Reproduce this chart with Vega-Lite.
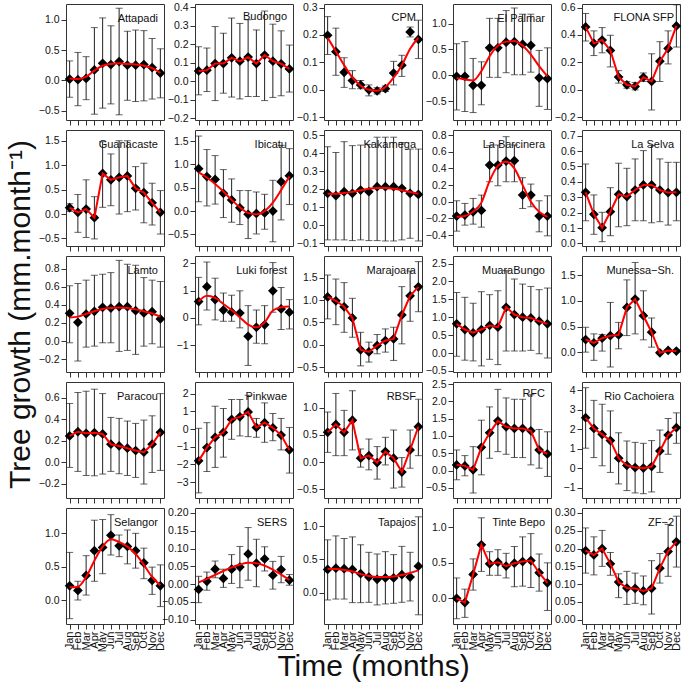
{
"$schema": "https://vega.github.io/schema/vega-lite/v6.json",
"padding": {"left": 4, "top": 1, "right": 0, "bottom": 0},
"background": "white",
"datasets": {"d": [
{"site":"Attapadi","month":"Jan","mean":0.02,"lo":-0.28,"hi":0.32,"fit":0.03},
{"site":"Attapadi","month":"Feb","mean":0.01,"lo":-0.42,"hi":0.46,"fit":0.02},
{"site":"Attapadi","month":"Mar","mean":0.03,"lo":-0.32,"hi":0.39,"fit":0.06},
{"site":"Attapadi","month":"Apr","mean":0.17,"lo":-0.56,"hi":0.87,"fit":0.16},
{"site":"Attapadi","month":"May","mean":0.28,"lo":-0.46,"hi":1.03,"fit":0.24},
{"site":"Attapadi","month":"Jun","mean":0.26,"lo":-0.39,"hi":0.90,"fit":0.27},
{"site":"Attapadi","month":"Jul","mean":0.31,"lo":-0.57,"hi":1.19,"fit":0.28},
{"site":"Attapadi","month":"Aug","mean":0.25,"lo":-0.33,"hi":0.81,"fit":0.27},
{"site":"Attapadi","month":"Sep","mean":0.25,"lo":-0.35,"hi":0.83,"fit":0.26},
{"site":"Attapadi","month":"Oct","mean":0.26,"lo":-0.34,"hi":0.82,"fit":0.24},
{"site":"Attapadi","month":"Nov","mean":0.21,"lo":-0.31,"hi":0.69,"fit":0.20},
{"site":"Attapadi","month":"Dec","mean":0.12,"lo":-0.29,"hi":0.52,"fit":0.12},
{"site":"Budongo","month":"Jan","mean":0.056,"lo":-0.073,"hi":0.187,"fit":0.056},
{"site":"Budongo","month":"Feb","mean":0.06,"lo":-0.055,"hi":0.18,"fit":0.06},
{"site":"Budongo","month":"Mar","mean":0.096,"lo":-0.104,"hi":0.296,"fit":0.096},
{"site":"Budongo","month":"Apr","mean":0.096,"lo":-0.064,"hi":0.26,"fit":0.096},
{"site":"Budongo","month":"May","mean":0.127,"lo":-0.085,"hi":0.342,"fit":0.127},
{"site":"Budongo","month":"Jun","mean":0.109,"lo":-0.095,"hi":0.313,"fit":0.109},
{"site":"Budongo","month":"Jul","mean":0.131,"lo":-0.082,"hi":0.333,"fit":0.131},
{"site":"Budongo","month":"Aug","mean":0.096,"lo":-0.082,"hi":0.278,"fit":0.096},
{"site":"Budongo","month":"Sep","mean":0.142,"lo":-0.104,"hi":0.38,"fit":0.142},
{"site":"Budongo","month":"Oct","mean":0.109,"lo":-0.087,"hi":0.309,"fit":0.109},
{"site":"Budongo","month":"Nov","mean":0.095,"lo":-0.078,"hi":0.273,"fit":0.095},
{"site":"Budongo","month":"Dec","mean":0.067,"lo":-0.058,"hi":0.196,"fit":0.067},
{"site":"CPM","month":"Jan","mean":0.199,"lo":0.129,"hi":0.267,"fit":0.19},
{"site":"CPM","month":"Feb","mean":0.139,"lo":0.053,"hi":0.225,"fit":0.14},
{"site":"CPM","month":"Mar","mean":0.064,"lo":0.009,"hi":0.117,"fit":0.09},
{"site":"CPM","month":"Apr","mean":0.034,"lo":0.004,"hi":0.07,"fit":0.045},
{"site":"CPM","month":"May","mean":0.018,"lo":0.004,"hi":0.034,"fit":0.015},
{"site":"CPM","month":"Jun","mean":0.0,"lo":-0.022,"hi":0.018,"fit":0.0},
{"site":"CPM","month":"Jul","mean":-0.004,"lo":-0.015,"hi":0.008,"fit":-0.003},
{"site":"CPM","month":"Aug","mean":0.004,"lo":-0.006,"hi":0.014,"fit":0.01},
{"site":"CPM","month":"Sep","mean":0.061,"lo":0.018,"hi":0.104,"fit":0.045},
{"site":"CPM","month":"Oct","mean":0.09,"lo":0.049,"hi":0.126,"fit":0.09},
{"site":"CPM","month":"Nov","mean":0.211,"lo":0.193,"hi":0.229,"fit":0.15},
{"site":"CPM","month":"Dec","mean":0.184,"lo":0.114,"hi":0.254,"fit":0.19},
{"site":"El Palmar","month":"Jan","mean":-0.02,"lo":-0.67,"hi":0.61,"fit":-0.05},
{"site":"El Palmar","month":"Feb","mean":-0.02,"lo":-0.70,"hi":0.65,"fit":-0.08},
{"site":"El Palmar","month":"Mar","mean":-0.195,"lo":-0.72,"hi":0.325,"fit":-0.10},
{"site":"El Palmar","month":"Apr","mean":-0.195,"lo":-0.57,"hi":0.26,"fit":0.08},
{"site":"El Palmar","month":"May","mean":0.53,"lo":-0.04,"hi":1.10,"fit":0.37},
{"site":"El Palmar","month":"Jun","mean":0.53,"lo":-0.04,"hi":1.10,"fit":0.57},
{"site":"El Palmar","month":"Jul","mean":0.64,"lo":0.05,"hi":1.25,"fit":0.65},
{"site":"El Palmar","month":"Aug","mean":0.65,"lo":0.01,"hi":1.30,"fit":0.66},
{"site":"El Palmar","month":"Sep","mean":0.60,"lo":0.01,"hi":1.18,"fit":0.57},
{"site":"El Palmar","month":"Oct","mean":0.58,"lo":0.06,"hi":1.18,"fit":0.40},
{"site":"El Palmar","month":"Nov","mean":-0.05,"lo":-0.60,"hi":0.48,"fit":0.175},
{"site":"El Palmar","month":"Dec","mean":-0.065,"lo":-0.66,"hi":0.53,"fit":-0.02},
{"site":"FLONA SFP","month":"Jan","mean":0.459,"lo":0.356,"hi":0.557,"fit":0.459},
{"site":"FLONA SFP","month":"Feb","mean":0.339,"lo":0.25,"hi":0.43,"fit":0.339},
{"site":"FLONA SFP","month":"Mar","mean":0.363,"lo":0.27,"hi":0.454,"fit":0.363},
{"site":"FLONA SFP","month":"Apr","mean":0.287,"lo":0.167,"hi":0.398,"fit":0.287},
{"site":"FLONA SFP","month":"May","mean":0.093,"lo":0.049,"hi":0.14,"fit":0.093},
{"site":"FLONA SFP","month":"Jun","mean":0.037,"lo":0.012,"hi":0.061,"fit":0.037},
{"site":"FLONA SFP","month":"Jul","mean":0.025,"lo":0.0,"hi":0.054,"fit":0.025},
{"site":"FLONA SFP","month":"Aug","mean":0.091,"lo":0.061,"hi":0.123,"fit":0.091},
{"site":"FLONA SFP","month":"Sep","mean":0.061,"lo":-0.147,"hi":0.263,"fit":0.061},
{"site":"FLONA SFP","month":"Oct","mean":0.209,"lo":0.061,"hi":0.351,"fit":0.209},
{"site":"FLONA SFP","month":"Nov","mean":0.302,"lo":0.189,"hi":0.43,"fit":0.302},
{"site":"FLONA SFP","month":"Dec","mean":0.466,"lo":0.312,"hi":0.62,"fit":0.466},
{"site":"Guanacaste","month":"Jan","mean":0.13,"lo":0.05,"hi":0.21,"fit":0.13},
{"site":"Guanacaste","month":"Feb","mean":0.034,"lo":-0.375,"hi":0.40,"fit":0.034},
{"site":"Guanacaste","month":"Mar","mean":0.10,"lo":-0.48,"hi":0.70,"fit":0.10},
{"site":"Guanacaste","month":"Apr","mean":-0.075,"lo":-0.51,"hi":0.355,"fit":-0.075},
{"site":"Guanacaste","month":"May","mean":0.83,"lo":0.137,"hi":1.48,"fit":0.83},
{"site":"Guanacaste","month":"Jun","mean":0.70,"lo":0.17,"hi":1.23,"fit":0.70},
{"site":"Guanacaste","month":"Jul","mean":0.75,"lo":0.0,"hi":1.50,"fit":0.75},
{"site":"Guanacaste","month":"Aug","mean":0.78,"lo":0.048,"hi":1.50,"fit":0.78},
{"site":"Guanacaste","month":"Sep","mean":0.525,"lo":0.082,"hi":0.97,"fit":0.525},
{"site":"Guanacaste","month":"Oct","mean":0.44,"lo":-0.18,"hi":1.04,"fit":0.44},
{"site":"Guanacaste","month":"Nov","mean":0.23,"lo":-0.225,"hi":0.63,"fit":0.23},
{"site":"Guanacaste","month":"Dec","mean":0.034,"lo":-0.41,"hi":0.48,"fit":0.034},
{"site":"Ibicatu","month":"Jan","mean":0.91,"lo":0.2,"hi":1.61,"fit":0.83},
{"site":"Ibicatu","month":"Feb","mean":0.74,"lo":0.11,"hi":1.32,"fit":0.72},
{"site":"Ibicatu","month":"Mar","mean":0.68,"lo":0.15,"hi":1.19,"fit":0.58},
{"site":"Ibicatu","month":"Apr","mean":0.38,"lo":-0.14,"hi":0.89,"fit":0.42},
{"site":"Ibicatu","month":"May","mean":0.24,"lo":-0.24,"hi":0.69,"fit":0.24},
{"site":"Ibicatu","month":"Jun","mean":0.07,"lo":-0.29,"hi":0.44,"fit":0.08},
{"site":"Ibicatu","month":"Jul","mean":-0.07,"lo":-0.59,"hi":0.44,"fit":-0.04},
{"site":"Ibicatu","month":"Aug","mean":-0.05,"lo":-0.49,"hi":0.41,"fit":-0.07},
{"site":"Ibicatu","month":"Sep","mean":-0.04,"lo":-0.39,"hi":0.36,"fit":0.0},
{"site":"Ibicatu","month":"Oct","mean":0.0,"lo":-0.66,"hi":0.66,"fit":0.18},
{"site":"Ibicatu","month":"Nov","mean":0.63,"lo":-0.19,"hi":1.41,"fit":0.45},
{"site":"Ibicatu","month":"Dec","mean":0.76,"lo":0.14,"hi":1.34,"fit":0.74},
{"site":"Kakamega","month":"Jan","mean":0.178,"lo":-0.081,"hi":0.437,"fit":0.175},
{"site":"Kakamega","month":"Feb","mean":0.165,"lo":-0.081,"hi":0.405,"fit":0.176},
{"site":"Kakamega","month":"Mar","mean":0.187,"lo":-0.081,"hi":0.465,"fit":0.18},
{"site":"Kakamega","month":"Apr","mean":0.178,"lo":-0.085,"hi":0.443,"fit":0.186},
{"site":"Kakamega","month":"May","mean":0.196,"lo":-0.081,"hi":0.446,"fit":0.195},
{"site":"Kakamega","month":"Jun","mean":0.187,"lo":-0.085,"hi":0.45,"fit":0.203},
{"site":"Kakamega","month":"Jul","mean":0.215,"lo":-0.085,"hi":0.49,"fit":0.208},
{"site":"Kakamega","month":"Aug","mean":0.215,"lo":-0.087,"hi":0.49,"fit":0.208},
{"site":"Kakamega","month":"Sep","mean":0.215,"lo":-0.087,"hi":0.49,"fit":0.203},
{"site":"Kakamega","month":"Oct","mean":0.206,"lo":-0.081,"hi":0.46,"fit":0.195},
{"site":"Kakamega","month":"Nov","mean":0.178,"lo":-0.072,"hi":0.424,"fit":0.185},
{"site":"Kakamega","month":"Dec","mean":0.172,"lo":-0.087,"hi":0.424,"fit":0.176},
{"site":"La Barcinera","month":"Jan","mean":-0.172,"lo":-0.352,"hi":0.012,"fit":-0.18},
{"site":"La Barcinera","month":"Feb","mean":-0.16,"lo":-0.28,"hi":-0.02,"fit":-0.17},
{"site":"La Barcinera","month":"Mar","mean":-0.12,"lo":-0.268,"hi":0.04,"fit":-0.12},
{"site":"La Barcinera","month":"Apr","mean":-0.104,"lo":-0.304,"hi":0.08,"fit":-0.01},
{"site":"La Barcinera","month":"May","mean":0.44,"lo":0.24,"hi":0.672,"fit":0.25},
{"site":"La Barcinera","month":"Jun","mean":0.44,"lo":0.192,"hi":0.68,"fit":0.43},
{"site":"La Barcinera","month":"Jul","mean":0.488,"lo":0.24,"hi":0.78,"fit":0.48},
{"site":"La Barcinera","month":"Aug","mean":0.492,"lo":0.24,"hi":0.68,"fit":0.40},
{"site":"La Barcinera","month":"Sep","mean":0.08,"lo":-0.08,"hi":0.288,"fit":0.20},
{"site":"La Barcinera","month":"Oct","mean":0.08,"lo":-0.06,"hi":0.212,"fit":0.0},
{"site":"La Barcinera","month":"Nov","mean":-0.172,"lo":-0.36,"hi":0.012,"fit":-0.12},
{"site":"La Barcinera","month":"Dec","mean":-0.172,"lo":-0.408,"hi":0.072,"fit":-0.18},
{"site":"La Selva","month":"Jan","mean":0.332,"lo":0.147,"hi":0.516,"fit":0.332},
{"site":"La Selva","month":"Feb","mean":0.189,"lo":0.059,"hi":0.315,"fit":0.189},
{"site":"La Selva","month":"Mar","mean":0.102,"lo":0.011,"hi":0.202,"fit":0.102},
{"site":"La Selva","month":"Apr","mean":0.206,"lo":0.05,"hi":0.362,"fit":0.206},
{"site":"La Selva","month":"May","mean":0.319,"lo":0.108,"hi":0.521,"fit":0.319},
{"site":"La Selva","month":"Jun","mean":0.304,"lo":0.115,"hi":0.488,"fit":0.304},
{"site":"La Selva","month":"Jul","mean":0.347,"lo":0.147,"hi":0.549,"fit":0.347},
{"site":"La Selva","month":"Aug","mean":0.38,"lo":0.147,"hi":0.603,"fit":0.38},
{"site":"La Selva","month":"Sep","mean":0.38,"lo":0.134,"hi":0.636,"fit":0.38},
{"site":"La Selva","month":"Oct","mean":0.347,"lo":0.141,"hi":0.549,"fit":0.347},
{"site":"La Selva","month":"Nov","mean":0.33,"lo":0.119,"hi":0.527,"fit":0.33},
{"site":"La Selva","month":"Dec","mean":0.332,"lo":0.147,"hi":0.527,"fit":0.332},
{"site":"Lamto","month":"Jan","mean":0.307,"lo":-0.018,"hi":0.61,"fit":0.26},
{"site":"Lamto","month":"Feb","mean":0.208,"lo":-0.219,"hi":0.635,"fit":0.27},
{"site":"Lamto","month":"Mar","mean":0.299,"lo":-0.066,"hi":0.672,"fit":0.30},
{"site":"Lamto","month":"Apr","mean":0.328,"lo":-0.055,"hi":0.726,"fit":0.33},
{"site":"Lamto","month":"May","mean":0.372,"lo":-0.018,"hi":0.737,"fit":0.355},
{"site":"Lamto","month":"Jun","mean":0.365,"lo":-0.018,"hi":0.755,"fit":0.365},
{"site":"Lamto","month":"Jul","mean":0.38,"lo":-0.113,"hi":0.89,"fit":0.37},
{"site":"Lamto","month":"Aug","mean":0.38,"lo":-0.102,"hi":0.847,"fit":0.365},
{"site":"Lamto","month":"Sep","mean":0.336,"lo":-0.146,"hi":0.836,"fit":0.35},
{"site":"Lamto","month":"Oct","mean":0.31,"lo":-0.055,"hi":0.70,"fit":0.33},
{"site":"Lamto","month":"Nov","mean":0.325,"lo":-0.029,"hi":0.672,"fit":0.305},
{"site":"Lamto","month":"Dec","mean":0.245,"lo":-0.066,"hi":0.657,"fit":0.27},
{"site":"Luki forest","month":"Jan","mean":0.60,"lo":-0.25,"hi":1.48,"fit":0.60},
{"site":"Luki forest","month":"Feb","mean":1.14,"lo":0.29,"hi":2.04,"fit":0.81},
{"site":"Luki forest","month":"Mar","mean":0.67,"lo":-0.07,"hi":1.45,"fit":0.73},
{"site":"Luki forest","month":"Apr","mean":0.29,"lo":-0.12,"hi":0.91,"fit":0.51},
{"site":"Luki forest","month":"May","mean":0.21,"lo":-0.12,"hi":0.83,"fit":0.29},
{"site":"Luki forest","month":"Jun","mean":0.18,"lo":-0.36,"hi":0.99,"fit":0.02},
{"site":"Luki forest","month":"Jul","mean":-0.67,"lo":-1.73,"hi":0.45,"fit":-0.24},
{"site":"Luki forest","month":"Aug","mean":-0.34,"lo":-0.92,"hi":0.29,"fit":-0.34},
{"site":"Luki forest","month":"Sep","mean":-0.25,"lo":-0.94,"hi":0.45,"fit":-0.16},
{"site":"Luki forest","month":"Oct","mean":0.99,"lo":0.21,"hi":2.02,"fit":0.27},
{"site":"Luki forest","month":"Nov","mean":0.33,"lo":-0.42,"hi":1.11,"fit":0.39},
{"site":"Luki forest","month":"Dec","mean":0.21,"lo":-0.40,"hi":0.67,"fit":0.42},
{"site":"Marajoara","month":"Jan","mean":1.07,"lo":0.58,"hi":1.56,"fit":1.07},
{"site":"Marajoara","month":"Feb","mean":0.985,"lo":0.45,"hi":1.47,"fit":0.985},
{"site":"Marajoara","month":"Mar","mean":0.85,"lo":0.28,"hi":1.39,"fit":0.85},
{"site":"Marajoara","month":"Apr","mean":0.60,"lo":0.17,"hi":1.04,"fit":0.60},
{"site":"Marajoara","month":"May","mean":-0.11,"lo":-0.47,"hi":0.28,"fit":-0.11},
{"site":"Marajoara","month":"Jun","mean":-0.16,"lo":-0.385,"hi":0.06,"fit":-0.16},
{"site":"Marajoara","month":"Jul","mean":-0.015,"lo":-0.2,"hi":0.23,"fit":-0.015},
{"site":"Marajoara","month":"Aug","mean":0.096,"lo":-0.163,"hi":0.356,"fit":0.096},
{"site":"Marajoara","month":"Sep","mean":0.133,"lo":-0.348,"hi":0.393,"fit":0.133},
{"site":"Marajoara","month":"Oct","mean":0.667,"lo":0.022,"hi":1.30,"fit":0.667},
{"site":"Marajoara","month":"Nov","mean":1.096,"lo":0.526,"hi":1.65,"fit":1.096},
{"site":"Marajoara","month":"Dec","mean":1.296,"lo":0.74,"hi":1.86,"fit":1.296},
{"site":"MuaraBungo","month":"Jan","mean":0.815,"lo":-0.09,"hi":1.69,"fit":0.815},
{"site":"MuaraBungo","month":"Feb","mean":0.657,"lo":-0.2,"hi":1.556,"fit":0.657},
{"site":"MuaraBungo","month":"Mar","mean":0.565,"lo":-0.22,"hi":1.39,"fit":0.565},
{"site":"MuaraBungo","month":"Apr","mean":0.657,"lo":-0.36,"hi":1.713,"fit":0.657},
{"site":"MuaraBungo","month":"May","mean":0.769,"lo":-0.176,"hi":1.63,"fit":0.769},
{"site":"MuaraBungo","month":"Jun","mean":0.722,"lo":-0.324,"hi":1.74,"fit":0.722},
{"site":"MuaraBungo","month":"Jul","mean":1.278,"lo":0.056,"hi":2.3,"fit":1.278},
{"site":"MuaraBungo","month":"Aug","mean":1.074,"lo":0.056,"hi":2.065,"fit":1.074},
{"site":"MuaraBungo","month":"Sep","mean":1.0,"lo":0.056,"hi":1.926,"fit":1.0},
{"site":"MuaraBungo","month":"Oct","mean":0.98,"lo":0.074,"hi":1.86,"fit":0.98},
{"site":"MuaraBungo","month":"Nov","mean":0.889,"lo":-0.02,"hi":1.77,"fit":0.889},
{"site":"MuaraBungo","month":"Dec","mean":0.815,"lo":-0.139,"hi":1.815,"fit":0.815},
{"site":"Munessa−Sh.","month":"Jan","mean":0.246,"lo":0.0,"hi":0.485,"fit":0.246},
{"site":"Munessa−Sh.","month":"Feb","mean":0.181,"lo":-0.16,"hi":0.356,"fit":0.181},
{"site":"Munessa−Sh.","month":"Mar","mean":0.272,"lo":0.02,"hi":0.343,"fit":0.272},
{"site":"Munessa−Sh.","month":"Apr","mean":0.32,"lo":-0.29,"hi":0.97,"fit":0.32},
{"site":"Munessa−Sh.","month":"May","mean":0.336,"lo":0.065,"hi":0.58,"fit":0.336},
{"site":"Munessa−Sh.","month":"Jun","mean":0.873,"lo":0.323,"hi":1.41,"fit":0.873},
{"site":"Munessa−Sh.","month":"Jul","mean":1.035,"lo":0.356,"hi":1.75,"fit":1.035},
{"site":"Munessa−Sh.","month":"Aug","mean":0.71,"lo":0.24,"hi":1.197,"fit":0.71},
{"site":"Munessa−Sh.","month":"Sep","mean":0.388,"lo":0.097,"hi":0.666,"fit":0.388},
{"site":"Munessa−Sh.","month":"Oct","mean":-0.013,"lo":-0.03,"hi":0.005,"fit":-0.013},
{"site":"Munessa−Sh.","month":"Nov","mean":0.032,"lo":0.012,"hi":0.052,"fit":0.032},
{"site":"Munessa−Sh.","month":"Dec","mean":0.02,"lo":0.0,"hi":0.04,"fit":0.02},
{"site":"Paracou","month":"Jan","mean":0.244,"lo":-0.049,"hi":0.547,"fit":0.244},
{"site":"Paracou","month":"Feb","mean":0.284,"lo":-0.086,"hi":0.649,"fit":0.284},
{"site":"Paracou","month":"Mar","mean":0.269,"lo":-0.124,"hi":0.661,"fit":0.269},
{"site":"Paracou","month":"Apr","mean":0.275,"lo":-0.127,"hi":0.68,"fit":0.275},
{"site":"Paracou","month":"May","mean":0.263,"lo":-0.111,"hi":0.639,"fit":0.263},
{"site":"Paracou","month":"Jun","mean":0.167,"lo":-0.086,"hi":0.417,"fit":0.167},
{"site":"Paracou","month":"Jul","mean":0.151,"lo":-0.108,"hi":0.408,"fit":0.151},
{"site":"Paracou","month":"Aug","mean":0.13,"lo":-0.124,"hi":0.383,"fit":0.13},
{"site":"Paracou","month":"Sep","mean":0.108,"lo":-0.142,"hi":0.361,"fit":0.108},
{"site":"Paracou","month":"Oct","mean":0.093,"lo":-0.204,"hi":0.392,"fit":0.093},
{"site":"Paracou","month":"Nov","mean":0.167,"lo":-0.096,"hi":0.432,"fit":0.167},
{"site":"Paracou","month":"Dec","mean":0.278,"lo":-0.077,"hi":0.639,"fit":0.278},
{"site":"Pinkwae","month":"Jan","mean":-1.80,"lo":-3.61,"hi":0.04,"fit":-1.80},
{"site":"Pinkwae","month":"Feb","mean":-1.05,"lo":-2.40,"hi":0.36,"fit":-1.05},
{"site":"Pinkwae","month":"Mar","mean":-0.47,"lo":-2.17,"hi":1.29,"fit":-0.47},
{"site":"Pinkwae","month":"Apr","mean":-0.19,"lo":-1.59,"hi":1.16,"fit":-0.19},
{"site":"Pinkwae","month":"May","mean":0.54,"lo":-0.58,"hi":1.67,"fit":0.54},
{"site":"Pinkwae","month":"Jun","mean":0.69,"lo":-0.39,"hi":1.67,"fit":0.69},
{"site":"Pinkwae","month":"Jul","mean":0.97,"lo":-0.43,"hi":1.91,"fit":0.97},
{"site":"Pinkwae","month":"Aug","mean":0.09,"lo":-0.47,"hi":0.60,"fit":0.09},
{"site":"Pinkwae","month":"Sep","mean":0.36,"lo":-0.75,"hi":1.48,"fit":0.36},
{"site":"Pinkwae","month":"Oct","mean":0.07,"lo":-0.66,"hi":0.88,"fit":0.07},
{"site":"Pinkwae","month":"Nov","mean":-0.34,"lo":-1.18,"hi":0.60,"fit":-0.34},
{"site":"Pinkwae","month":"Dec","mean":-1.18,"lo":-2.49,"hi":0.09,"fit":-1.18},
{"site":"RBSF","month":"Jan","mean":0.547,"lo":0.18,"hi":0.92,"fit":0.547},
{"site":"RBSF","month":"Feb","mean":0.693,"lo":0.12,"hi":1.26,"fit":0.693},
{"site":"RBSF","month":"Mar","mean":0.547,"lo":0.12,"hi":0.95,"fit":0.547},
{"site":"RBSF","month":"Apr","mean":0.77,"lo":0.225,"hi":1.31,"fit":0.77},
{"site":"RBSF","month":"May","mean":0.073,"lo":-0.09,"hi":0.243,"fit":0.073},
{"site":"RBSF","month":"Jun","mean":0.12,"lo":-0.14,"hi":0.425,"fit":0.12},
{"site":"RBSF","month":"Jul","mean":-0.006,"lo":-0.31,"hi":0.286,"fit":-0.006},
{"site":"RBSF","month":"Aug","mean":0.194,"lo":-0.05,"hi":0.456,"fit":0.194},
{"site":"RBSF","month":"Sep","mean":0.073,"lo":-0.474,"hi":0.59,"fit":0.073},
{"site":"RBSF","month":"Oct","mean":-0.18,"lo":-0.456,"hi":0.085,"fit":-0.18},
{"site":"RBSF","month":"Nov","mean":0.225,"lo":-0.11,"hi":0.59,"fit":0.225},
{"site":"RBSF","month":"Dec","mean":0.65,"lo":0.12,"hi":1.154,"fit":0.65},
{"site":"RFC","month":"Jan","mean":0.163,"lo":-0.268,"hi":0.594,"fit":0.163},
{"site":"RFC","month":"Feb","mean":0.134,"lo":-0.153,"hi":0.431,"fit":0.134},
{"site":"RFC","month":"Mar","mean":0.019,"lo":-0.65,"hi":0.69,"fit":0.019},
{"site":"RFC","month":"Apr","mean":0.67,"lo":-0.125,"hi":1.456,"fit":0.67},
{"site":"RFC","month":"May","mean":1.09,"lo":0.354,"hi":1.84,"fit":1.09},
{"site":"RFC","month":"Jun","mean":1.437,"lo":0.546,"hi":2.347,"fit":1.437},
{"site":"RFC","month":"Jul","mean":1.264,"lo":0.469,"hi":2.1,"fit":1.264},
{"site":"RFC","month":"Aug","mean":1.216,"lo":0.374,"hi":2.06,"fit":1.216},
{"site":"RFC","month":"Sep","mean":1.216,"lo":0.374,"hi":2.06,"fit":1.216},
{"site":"RFC","month":"Oct","mean":1.149,"lo":0.163,"hi":2.19,"fit":1.149},
{"site":"RFC","month":"Nov","mean":0.594,"lo":0.067,"hi":1.188,"fit":0.594},
{"site":"RFC","month":"Dec","mean":0.479,"lo":-0.172,"hi":1.12,"fit":0.479},
{"site":"Rio Cachoiera","month":"Jan","mean":2.58,"lo":1.02,"hi":4.12,"fit":2.58},
{"site":"Rio Cachoiera","month":"Feb","mean":2.03,"lo":0.54,"hi":3.47,"fit":2.03},
{"site":"Rio Cachoiera","month":"Mar","mean":1.73,"lo":0.12,"hi":3.27,"fit":1.73},
{"site":"Rio Cachoiera","month":"Apr","mean":1.41,"lo":-0.22,"hi":2.93,"fit":1.41},
{"site":"Rio Cachoiera","month":"May","mean":0.51,"lo":-0.81,"hi":1.81,"fit":0.51},
{"site":"Rio Cachoiera","month":"Jun","mean":0.14,"lo":-1.15,"hi":1.39,"fit":0.14},
{"site":"Rio Cachoiera","month":"Jul","mean":0.03,"lo":-1.27,"hi":1.32,"fit":0.03},
{"site":"Rio Cachoiera","month":"Aug","mean":0.0,"lo":-1.31,"hi":1.27,"fit":0.0},
{"site":"Rio Cachoiera","month":"Sep","mean":0.08,"lo":-1.22,"hi":1.41,"fit":0.08},
{"site":"Rio Cachoiera","month":"Oct","mean":0.88,"lo":-0.22,"hi":1.95,"fit":0.88},
{"site":"Rio Cachoiera","month":"Nov","mean":1.69,"lo":0.71,"hi":2.54,"fit":1.69},
{"site":"Rio Cachoiera","month":"Dec","mean":2.07,"lo":1.27,"hi":2.83,"fit":2.07},
{"site":"Selangor","month":"Jan","mean":0.212,"lo":-0.28,"hi":0.714,"fit":0.19},
{"site":"Selangor","month":"Feb","mean":0.143,"lo":0.0,"hi":0.281,"fit":0.20},
{"site":"Selangor","month":"Mar","mean":0.369,"lo":0.074,"hi":0.665,"fit":0.345},
{"site":"Selangor","month":"Apr","mean":0.739,"lo":0.281,"hi":1.197,"fit":0.59},
{"site":"Selangor","month":"May","mean":0.788,"lo":0.394,"hi":1.207,"fit":0.80},
{"site":"Selangor","month":"Jun","mean":0.97,"lo":0.675,"hi":1.28,"fit":0.91},
{"site":"Selangor","month":"Jul","mean":0.813,"lo":0.65,"hi":0.975,"fit":0.87},
{"site":"Selangor","month":"Aug","mean":0.803,"lo":0.542,"hi":1.05,"fit":0.80},
{"site":"Selangor","month":"Sep","mean":0.739,"lo":0.478,"hi":1.0,"fit":0.69},
{"site":"Selangor","month":"Oct","mean":0.557,"lo":0.32,"hi":0.778,"fit":0.527},
{"site":"Selangor","month":"Nov","mean":0.296,"lo":0.084,"hi":0.493,"fit":0.345},
{"site":"Selangor","month":"Dec","mean":0.212,"lo":-0.099,"hi":0.527,"fit":0.22},
{"site":"SERS","month":"Jan","mean":-0.015,"lo":-0.052,"hi":0.022,"fit":0.005},
{"site":"SERS","month":"Feb","mean":0.008,"lo":-0.017,"hi":0.034,"fit":0.015},
{"site":"SERS","month":"Mar","mean":0.042,"lo":0.018,"hi":0.065,"fit":0.026},
{"site":"SERS","month":"Apr","mean":0.016,"lo":-0.009,"hi":0.042,"fit":0.037},
{"site":"SERS","month":"May","mean":0.042,"lo":0.002,"hi":0.083,"fit":0.047},
{"site":"SERS","month":"Jun","mean":0.048,"lo":-0.01,"hi":0.106,"fit":0.055},
{"site":"SERS","month":"Jul","mean":0.085,"lo":0.011,"hi":0.159,"fit":0.06},
{"site":"SERS","month":"Aug","mean":0.059,"lo":-0.007,"hi":0.126,"fit":0.059},
{"site":"SERS","month":"Sep","mean":0.071,"lo":0.037,"hi":0.105,"fit":0.052},
{"site":"SERS","month":"Oct","mean":0.025,"lo":-0.014,"hi":0.064,"fit":0.041},
{"site":"SERS","month":"Nov","mean":0.041,"lo":0.004,"hi":0.078,"fit":0.027},
{"site":"SERS","month":"Dec","mean":0.011,"lo":-0.003,"hi":0.027,"fit":0.012},
{"site":"Tapajos","month":"Jan","mean":0.35,"lo":-0.108,"hi":0.793,"fit":0.36},
{"site":"Tapajos","month":"Feb","mean":0.369,"lo":-0.094,"hi":0.852,"fit":0.355},
{"site":"Tapajos","month":"Mar","mean":0.36,"lo":-0.094,"hi":0.813,"fit":0.34},
{"site":"Tapajos","month":"Apr","mean":0.35,"lo":-0.148,"hi":0.837,"fit":0.32},
{"site":"Tapajos","month":"May","mean":0.286,"lo":-0.148,"hi":0.719,"fit":0.28},
{"site":"Tapajos","month":"Jun","mean":0.236,"lo":-0.143,"hi":0.606,"fit":0.25},
{"site":"Tapajos","month":"Jul","mean":0.202,"lo":-0.182,"hi":0.581,"fit":0.235},
{"site":"Tapajos","month":"Aug","mean":0.222,"lo":-0.167,"hi":0.616,"fit":0.235},
{"site":"Tapajos","month":"Sep","mean":0.222,"lo":-0.158,"hi":0.571,"fit":0.245},
{"site":"Tapajos","month":"Oct","mean":0.271,"lo":-0.143,"hi":0.695,"fit":0.265},
{"site":"Tapajos","month":"Nov","mean":0.236,"lo":-0.123,"hi":0.606,"fit":0.295},
{"site":"Tapajos","month":"Dec","mean":0.399,"lo":-0.33,"hi":1.138,"fit":0.335},
{"site":"Tinte Bepo","month":"Jan","mean":0.0,"lo":-0.286,"hi":0.286,"fit":0.0},
{"site":"Tinte Bepo","month":"Feb","mean":-0.06,"lo":-0.267,"hi":0.129,"fit":-0.06},
{"site":"Tinte Bepo","month":"Mar","mean":0.336,"lo":0.115,"hi":0.553,"fit":0.336},
{"site":"Tinte Bepo","month":"Apr","mean":0.751,"lo":0.378,"hi":1.129,"fit":0.751},
{"site":"Tinte Bepo","month":"May","mean":0.484,"lo":0.323,"hi":0.654,"fit":0.484},
{"site":"Tinte Bepo","month":"Jun","mean":0.507,"lo":0.323,"hi":0.682,"fit":0.507},
{"site":"Tinte Bepo","month":"Jul","mean":0.452,"lo":0.286,"hi":0.631,"fit":0.452},
{"site":"Tinte Bepo","month":"Aug","mean":0.493,"lo":0.161,"hi":0.728,"fit":0.493},
{"site":"Tinte Bepo","month":"Sep","mean":0.516,"lo":0.171,"hi":0.862,"fit":0.516},
{"site":"Tinte Bepo","month":"Oct","mean":0.53,"lo":0.152,"hi":0.908,"fit":0.53},
{"site":"Tinte Bepo","month":"Nov","mean":0.359,"lo":0.101,"hi":0.622,"fit":0.359},
{"site":"Tinte Bepo","month":"Dec","mean":0.217,"lo":-0.17,"hi":0.498,"fit":0.217},
{"site":"ZF−2","month":"Jan","mean":0.194,"lo":0.131,"hi":0.258,"fit":0.194},
{"site":"ZF−2","month":"Feb","mean":0.182,"lo":0.126,"hi":0.233,"fit":0.182},
{"site":"ZF−2","month":"Mar","mean":0.2,"lo":0.15,"hi":0.251,"fit":0.2},
{"site":"ZF−2","month":"Apr","mean":0.157,"lo":0.125,"hi":0.189,"fit":0.157},
{"site":"ZF−2","month":"May","mean":0.106,"lo":0.062,"hi":0.129,"fit":0.106},
{"site":"ZF−2","month":"Jun","mean":0.089,"lo":0.043,"hi":0.136,"fit":0.089},
{"site":"ZF−2","month":"Jul","mean":0.088,"lo":0.046,"hi":0.131,"fit":0.088},
{"site":"ZF−2","month":"Aug","mean":0.081,"lo":0.042,"hi":0.123,"fit":0.081},
{"site":"ZF−2","month":"Sep","mean":0.088,"lo":0.016,"hi":0.166,"fit":0.088},
{"site":"ZF−2","month":"Oct","mean":0.145,"lo":0.103,"hi":0.186,"fit":0.145},
{"site":"ZF−2","month":"Nov","mean":0.192,"lo":0.122,"hi":0.268,"fit":0.192},
{"site":"ZF−2","month":"Dec","mean":0.219,"lo":0.148,"hi":0.291,"fit":0.219}
]},
"config": {
 "font": "Liberation Sans",
 "view": {"stroke": "#333333", "strokeWidth": 1},
 "axis": {"domain": false, "grid": false, "tickColor": "#333333", "tickSize": 5, "labelColor": "#111111", "labelOverlap": false, "labelBound": false, "labelFlush": false, "titleFontWeight": "normal", "titleColor": "#111111", "titleFont": "Liberation Sans", "labelFont": "Liberation Sans"},
 "axisY": {"labelFontSize": 10.5, "labelPadding": 2},
 "axisX": {"labelFontSize": 11, "labelPadding": 2},
 "title": {"anchor": "end", "orient": "top", "frame": "group", "offset": -20, "dx": -6, "fontSize": 11, "fontWeight": "normal", "color": "#111111", "font": "Liberation Sans"}
},
"columns": 5,
"bounds": "flush",
"spacing": {"row": 10, "column": 31},
"concat": [
{"title": "Attapadi", "width": 98, "height": 116, "data": {"name": "d"}, "transform": [{"filter": "datum.site === 'Attapadi'"}],
 "encoding": {"x": {"field": "month", "type": "ordinal", "sort": ["Jan","Feb","Mar","Apr","May","Jun","Jul","Aug","Sep","Oct","Nov","Dec"], "scale": {"type": "point", "padding": 0.44}, "axis": {"title": null, "labels": false}}},
 "layer": [
  {"mark": {"type": "errorbar", "ticks": {"size": 7}, "color": "#222222", "thickness": 1}, "encoding": {"y": {"field": "lo", "type": "quantitative", "scale": {"domain": [-0.656, 1.26], "nice": false, "zero": false}, "axis": {"title": null, "tickCount": 20, "labelOverlap": false, "values": [-0.5, 0, 0.5, 1], "format": ".1f"}}, "y2": {"field": "hi"}}},
  {"mark": {"type": "point", "shape": "diamond", "filled": true, "size": 95, "color": "black", "opacity": 1}, "encoding": {"y": {"field": "mean", "type": "quantitative"}}},
  {"mark": {"type": "line", "color": "red", "strokeWidth": 2, "interpolate": "monotone"}, "encoding": {"y": {"field": "fit", "type": "quantitative"}}}
 ]},
{"title": "Budongo", "width": 98, "height": 116, "data": {"name": "d"}, "transform": [{"filter": "datum.site === 'Budongo'"}],
 "encoding": {"x": {"field": "month", "type": "ordinal", "sort": ["Jan","Feb","Mar","Apr","May","Jun","Jul","Aug","Sep","Oct","Nov","Dec"], "scale": {"type": "point", "padding": 0.44}, "axis": {"title": null, "labels": false}}},
 "layer": [
  {"mark": {"type": "errorbar", "ticks": {"size": 7}, "color": "#222222", "thickness": 1}, "encoding": {"y": {"field": "lo", "type": "quantitative", "scale": {"domain": [-0.209, 0.418], "nice": false, "zero": false}, "axis": {"title": null, "tickCount": 20, "labelOverlap": false, "values": [-0.2, -0.1, 0, 0.1, 0.2, 0.3, 0.4], "format": ".1f"}}, "y2": {"field": "hi"}}},
  {"mark": {"type": "point", "shape": "diamond", "filled": true, "size": 95, "color": "black", "opacity": 1}, "encoding": {"y": {"field": "mean", "type": "quantitative"}}},
  {"mark": {"type": "line", "color": "red", "strokeWidth": 2, "interpolate": "linear"}, "encoding": {"y": {"field": "fit", "type": "quantitative"}}}
 ]},
{"title": "CPM", "width": 98, "height": 116, "data": {"name": "d"}, "transform": [{"filter": "datum.site === 'CPM'"}],
 "encoding": {"x": {"field": "month", "type": "ordinal", "sort": ["Jan","Feb","Mar","Apr","May","Jun","Jul","Aug","Sep","Oct","Nov","Dec"], "scale": {"type": "point", "padding": 0.44}, "axis": {"title": null, "labels": false}}},
 "layer": [
  {"mark": {"type": "errorbar", "ticks": {"size": 7}, "color": "#222222", "thickness": 1}, "encoding": {"y": {"field": "lo", "type": "quantitative", "scale": {"domain": [-0.11, 0.313], "nice": false, "zero": false}, "axis": {"title": null, "tickCount": 20, "labelOverlap": false, "values": [-0.1, 0, 0.1, 0.2, 0.3], "format": ".1f"}}, "y2": {"field": "hi"}}},
  {"mark": {"type": "point", "shape": "diamond", "filled": true, "size": 95, "color": "black", "opacity": 1}, "encoding": {"y": {"field": "mean", "type": "quantitative"}}},
  {"mark": {"type": "line", "color": "red", "strokeWidth": 2, "interpolate": "monotone"}, "encoding": {"y": {"field": "fit", "type": "quantitative"}}}
 ]},
{"title": "El Palmar", "width": 98, "height": 116, "data": {"name": "d"}, "transform": [{"filter": "datum.site === 'El Palmar'"}],
 "encoding": {"x": {"field": "month", "type": "ordinal", "sort": ["Jan","Feb","Mar","Apr","May","Jun","Jul","Aug","Sep","Oct","Nov","Dec"], "scale": {"type": "point", "padding": 0.44}, "axis": {"title": null, "labels": false}}},
 "layer": [
  {"mark": {"type": "errorbar", "ticks": {"size": 7}, "color": "#222222", "thickness": 1}, "encoding": {"y": {"field": "lo", "type": "quantitative", "scale": {"domain": [-0.864, 1.377], "nice": false, "zero": false}, "axis": {"title": null, "tickCount": 20, "labelOverlap": false, "values": [-0.5, 0, 0.5, 1], "format": ".1f"}}, "y2": {"field": "hi"}}},
  {"mark": {"type": "point", "shape": "diamond", "filled": true, "size": 95, "color": "black", "opacity": 1}, "encoding": {"y": {"field": "mean", "type": "quantitative"}}},
  {"mark": {"type": "line", "color": "red", "strokeWidth": 2, "interpolate": "monotone"}, "encoding": {"y": {"field": "fit", "type": "quantitative"}}}
 ]},
{"title": "FLONA SFP", "width": 98, "height": 116, "data": {"name": "d"}, "transform": [{"filter": "datum.site === 'FLONA SFP'"}],
 "encoding": {"x": {"field": "month", "type": "ordinal", "sort": ["Jan","Feb","Mar","Apr","May","Jun","Jul","Aug","Sep","Oct","Nov","Dec"], "scale": {"type": "point", "padding": 0.44}, "axis": {"title": null, "labels": false}}},
 "layer": [
  {"mark": {"type": "errorbar", "ticks": {"size": 7}, "color": "#222222", "thickness": 1}, "encoding": {"y": {"field": "lo", "type": "quantitative", "scale": {"domain": [-0.22, 0.626], "nice": false, "zero": false}, "axis": {"title": null, "tickCount": 20, "labelOverlap": false, "values": [-0.2, 0, 0.2, 0.4, 0.6], "format": ".1f"}}, "y2": {"field": "hi"}}},
  {"mark": {"type": "point", "shape": "diamond", "filled": true, "size": 95, "color": "black", "opacity": 1}, "encoding": {"y": {"field": "mean", "type": "quantitative"}}},
  {"mark": {"type": "line", "color": "red", "strokeWidth": 2, "interpolate": "linear"}, "encoding": {"y": {"field": "fit", "type": "quantitative"}}}
 ]},
{"title": "Guanacaste", "width": 98, "height": 116, "data": {"name": "d"}, "transform": [{"filter": "datum.site === 'Guanacaste'"}],
 "encoding": {"x": {"field": "month", "type": "ordinal", "sort": ["Jan","Feb","Mar","Apr","May","Jun","Jul","Aug","Sep","Oct","Nov","Dec"], "scale": {"type": "point", "padding": 0.44}, "axis": {"title": null, "labels": false}}},
 "layer": [
  {"mark": {"type": "errorbar", "ticks": {"size": 7}, "color": "#222222", "thickness": 1}, "encoding": {"y": {"field": "lo", "type": "quantitative", "scale": {"domain": [-0.655, 1.72], "nice": false, "zero": false}, "axis": {"title": null, "tickCount": 20, "labelOverlap": false, "values": [-0.5, 0, 0.5, 1, 1.5], "format": ".1f"}}, "y2": {"field": "hi"}}},
  {"mark": {"type": "point", "shape": "diamond", "filled": true, "size": 95, "color": "black", "opacity": 1}, "encoding": {"y": {"field": "mean", "type": "quantitative"}}},
  {"mark": {"type": "line", "color": "red", "strokeWidth": 2, "interpolate": "linear"}, "encoding": {"y": {"field": "fit", "type": "quantitative"}}}
 ]},
{"title": "Ibicatu", "width": 98, "height": 116, "data": {"name": "d"}, "transform": [{"filter": "datum.site === 'Ibicatu'"}],
 "encoding": {"x": {"field": "month", "type": "ordinal", "sort": ["Jan","Feb","Mar","Apr","May","Jun","Jul","Aug","Sep","Oct","Nov","Dec"], "scale": {"type": "point", "padding": 0.44}, "axis": {"title": null, "labels": false}}},
 "layer": [
  {"mark": {"type": "errorbar", "ticks": {"size": 7}, "color": "#222222", "thickness": 1}, "encoding": {"y": {"field": "lo", "type": "quantitative", "scale": {"domain": [-0.75, 1.74], "nice": false, "zero": false}, "axis": {"title": null, "tickCount": 20, "labelOverlap": false, "values": [-0.5, 0, 0.5, 1, 1.5], "format": ".1f"}}, "y2": {"field": "hi"}}},
  {"mark": {"type": "point", "shape": "diamond", "filled": true, "size": 95, "color": "black", "opacity": 1}, "encoding": {"y": {"field": "mean", "type": "quantitative"}}},
  {"mark": {"type": "line", "color": "red", "strokeWidth": 2, "interpolate": "monotone"}, "encoding": {"y": {"field": "fit", "type": "quantitative"}}}
 ]},
{"title": "Kakamega", "width": 98, "height": 116, "data": {"name": "d"}, "transform": [{"filter": "datum.site === 'Kakamega'"}],
 "encoding": {"x": {"field": "month", "type": "ordinal", "sort": ["Jan","Feb","Mar","Apr","May","Jun","Jul","Aug","Sep","Oct","Nov","Dec"], "scale": {"type": "point", "padding": 0.44}, "axis": {"title": null, "labels": false}}},
 "layer": [
  {"mark": {"type": "errorbar", "ticks": {"size": 7}, "color": "#222222", "thickness": 1}, "encoding": {"y": {"field": "lo", "type": "quantitative", "scale": {"domain": [-0.115, 0.53], "nice": false, "zero": false}, "axis": {"title": null, "tickCount": 20, "labelOverlap": false, "values": [-0.1, 0, 0.1, 0.2, 0.3, 0.4, 0.5], "format": ".1f"}}, "y2": {"field": "hi"}}},
  {"mark": {"type": "point", "shape": "diamond", "filled": true, "size": 95, "color": "black", "opacity": 1}, "encoding": {"y": {"field": "mean", "type": "quantitative"}}},
  {"mark": {"type": "line", "color": "red", "strokeWidth": 2, "interpolate": "monotone"}, "encoding": {"y": {"field": "fit", "type": "quantitative"}}}
 ]},
{"title": "La Barcinera", "width": 98, "height": 116, "data": {"name": "d"}, "transform": [{"filter": "datum.site === 'La Barcinera'"}],
 "encoding": {"x": {"field": "month", "type": "ordinal", "sort": ["Jan","Feb","Mar","Apr","May","Jun","Jul","Aug","Sep","Oct","Nov","Dec"], "scale": {"type": "point", "padding": 0.44}, "axis": {"title": null, "labels": false}}},
 "layer": [
  {"mark": {"type": "errorbar", "ticks": {"size": 7}, "color": "#222222", "thickness": 1}, "encoding": {"y": {"field": "lo", "type": "quantitative", "scale": {"domain": [-0.53, 0.86], "nice": false, "zero": false}, "axis": {"title": null, "tickCount": 20, "labelOverlap": false, "values": [-0.4, -0.2, 0, 0.2, 0.4, 0.6, 0.8], "format": ".1f"}}, "y2": {"field": "hi"}}},
  {"mark": {"type": "point", "shape": "diamond", "filled": true, "size": 95, "color": "black", "opacity": 1}, "encoding": {"y": {"field": "mean", "type": "quantitative"}}},
  {"mark": {"type": "line", "color": "red", "strokeWidth": 2, "interpolate": "monotone"}, "encoding": {"y": {"field": "fit", "type": "quantitative"}}}
 ]},
{"title": "La Selva", "width": 98, "height": 116, "data": {"name": "d"}, "transform": [{"filter": "datum.site === 'La Selva'"}],
 "encoding": {"x": {"field": "month", "type": "ordinal", "sort": ["Jan","Feb","Mar","Apr","May","Jun","Jul","Aug","Sep","Oct","Nov","Dec"], "scale": {"type": "point", "padding": 0.44}, "axis": {"title": null, "labels": false}}},
 "layer": [
  {"mark": {"type": "errorbar", "ticks": {"size": 7}, "color": "#222222", "thickness": 1}, "encoding": {"y": {"field": "lo", "type": "quantitative", "scale": {"domain": [-0.017, 0.737], "nice": false, "zero": false}, "axis": {"title": null, "tickCount": 20, "labelOverlap": false, "values": [0, 0.1, 0.2, 0.3, 0.4, 0.5, 0.6, 0.7], "format": ".1f"}}, "y2": {"field": "hi"}}},
  {"mark": {"type": "point", "shape": "diamond", "filled": true, "size": 95, "color": "black", "opacity": 1}, "encoding": {"y": {"field": "mean", "type": "quantitative"}}},
  {"mark": {"type": "line", "color": "red", "strokeWidth": 2, "interpolate": "linear"}, "encoding": {"y": {"field": "fit", "type": "quantitative"}}}
 ]},
{"width": 98, "height": 116,
 "encoding": {"x": {"field": "month", "type": "ordinal", "sort": ["Jan","Feb","Mar","Apr","May","Jun","Jul","Aug","Sep","Oct","Nov","Dec"], "scale": {"type": "point", "padding": 0.44}, "axis": {"title": null, "labels": false}}},
 "layer": [
  {"data": {"name": "d"}, "transform": [{"filter": "datum.site === 'Lamto'"}], "mark": {"type": "errorbar", "ticks": {"size": 7}, "color": "#222222", "thickness": 1}, "encoding": {"y": {"field": "lo", "type": "quantitative", "scale": {"domain": [-0.34, 0.938], "nice": false, "zero": false}, "axis": {"title": "Tree growth (mm.month⁻¹)", "titleFontSize": 30, "titlePadding": 3, "tickCount": 20, "labelOverlap": false, "values": [-0.2, 0, 0.2, 0.4, 0.6, 0.8], "format": ".1f"}}, "y2": {"field": "hi"}}},
  {"data": {"name": "d"}, "transform": [{"filter": "datum.site === 'Lamto'"}], "mark": {"type": "point", "shape": "diamond", "filled": true, "size": 95, "color": "black", "opacity": 1}, "encoding": {"y": {"field": "mean", "type": "quantitative"}}},
  {"data": {"name": "d"}, "transform": [{"filter": "datum.site === 'Lamto'"}], "mark": {"type": "line", "color": "red", "strokeWidth": 2, "interpolate": "monotone"}, "encoding": {"y": {"field": "fit", "type": "quantitative"}}},
  {"data": {"values": [{"site": "Lamto"}]}, "mark": {"type": "text", "align": "right", "baseline": "alphabetic", "dx": -2.4, "dy": 17.5, "fontSize": 11, "font": "Liberation Sans", "color": "#111111"}, "encoding": {"x": {"datum": "Dec"}, "y": {"datum": 0.938}, "text": {"field": "site"}}}
 ]},
{"title": "Luki forest", "width": 98, "height": 116, "data": {"name": "d"}, "transform": [{"filter": "datum.site === 'Luki forest'"}],
 "encoding": {"x": {"field": "month", "type": "ordinal", "sort": ["Jan","Feb","Mar","Apr","May","Jun","Jul","Aug","Sep","Oct","Nov","Dec"], "scale": {"type": "point", "padding": 0.44}, "axis": {"title": null, "labels": false}}},
 "layer": [
  {"mark": {"type": "errorbar", "ticks": {"size": 7}, "color": "#222222", "thickness": 1}, "encoding": {"y": {"field": "lo", "type": "quantitative", "scale": {"domain": [-1.97, 2.26], "nice": false, "zero": false}, "axis": {"title": null, "tickCount": 20, "labelOverlap": false, "values": [-1, 0, 1, 2], "format": "d"}}, "y2": {"field": "hi"}}},
  {"mark": {"type": "point", "shape": "diamond", "filled": true, "size": 95, "color": "black", "opacity": 1}, "encoding": {"y": {"field": "mean", "type": "quantitative"}}},
  {"mark": {"type": "line", "color": "red", "strokeWidth": 2, "interpolate": "monotone"}, "encoding": {"y": {"field": "fit", "type": "quantitative"}}}
 ]},
{"title": "Marajoara", "width": 98, "height": 116, "data": {"name": "d"}, "transform": [{"filter": "datum.site === 'Marajoara'"}],
 "encoding": {"x": {"field": "month", "type": "ordinal", "sort": ["Jan","Feb","Mar","Apr","May","Jun","Jul","Aug","Sep","Oct","Nov","Dec"], "scale": {"type": "point", "padding": 0.44}, "axis": {"title": null, "labels": false}}},
 "layer": [
  {"mark": {"type": "errorbar", "ticks": {"size": 7}, "color": "#222222", "thickness": 1}, "encoding": {"y": {"field": "lo", "type": "quantitative", "scale": {"domain": [-0.607, 1.985], "nice": false, "zero": false}, "axis": {"title": null, "tickCount": 20, "labelOverlap": false, "values": [-0.5, 0, 0.5, 1, 1.5], "format": ".1f"}}, "y2": {"field": "hi"}}},
  {"mark": {"type": "point", "shape": "diamond", "filled": true, "size": 95, "color": "black", "opacity": 1}, "encoding": {"y": {"field": "mean", "type": "quantitative"}}},
  {"mark": {"type": "line", "color": "red", "strokeWidth": 2, "interpolate": "linear"}, "encoding": {"y": {"field": "fit", "type": "quantitative"}}}
 ]},
{"title": "MuaraBungo", "width": 98, "height": 116, "data": {"name": "d"}, "transform": [{"filter": "datum.site === 'MuaraBungo'"}],
 "encoding": {"x": {"field": "month", "type": "ordinal", "sort": ["Jan","Feb","Mar","Apr","May","Jun","Jul","Aug","Sep","Oct","Nov","Dec"], "scale": {"type": "point", "padding": 0.44}, "axis": {"title": null, "labels": false}}},
 "layer": [
  {"mark": {"type": "errorbar", "ticks": {"size": 7}, "color": "#222222", "thickness": 1}, "encoding": {"y": {"field": "lo", "type": "quantitative", "scale": {"domain": [-0.53, 2.71], "nice": false, "zero": false}, "axis": {"title": null, "tickCount": 20, "labelOverlap": false, "values": [-0.5, 0, 0.5, 1, 1.5, 2, 2.5], "format": ".1f"}}, "y2": {"field": "hi"}}},
  {"mark": {"type": "point", "shape": "diamond", "filled": true, "size": 95, "color": "black", "opacity": 1}, "encoding": {"y": {"field": "mean", "type": "quantitative"}}},
  {"mark": {"type": "line", "color": "red", "strokeWidth": 2, "interpolate": "linear"}, "encoding": {"y": {"field": "fit", "type": "quantitative"}}}
 ]},
{"title": "Munessa−Sh.", "width": 98, "height": 116, "data": {"name": "d"}, "transform": [{"filter": "datum.site === 'Munessa−Sh.'"}],
 "encoding": {"x": {"field": "month", "type": "ordinal", "sort": ["Jan","Feb","Mar","Apr","May","Jun","Jul","Aug","Sep","Oct","Nov","Dec"], "scale": {"type": "point", "padding": 0.44}, "axis": {"title": null, "labels": false}}},
 "layer": [
  {"mark": {"type": "errorbar", "ticks": {"size": 7}, "color": "#222222", "thickness": 1}, "encoding": {"y": {"field": "lo", "type": "quantitative", "scale": {"domain": [-0.388, 1.876], "nice": false, "zero": false}, "axis": {"title": null, "tickCount": 20, "labelOverlap": false, "values": [0, 0.5, 1, 1.5], "format": ".1f"}}, "y2": {"field": "hi"}}},
  {"mark": {"type": "point", "shape": "diamond", "filled": true, "size": 95, "color": "black", "opacity": 1}, "encoding": {"y": {"field": "mean", "type": "quantitative"}}},
  {"mark": {"type": "line", "color": "red", "strokeWidth": 2, "interpolate": "linear"}, "encoding": {"y": {"field": "fit", "type": "quantitative"}}}
 ]},
{"title": "Paracou", "width": 98, "height": 116, "data": {"name": "d"}, "transform": [{"filter": "datum.site === 'Paracou'"}],
 "encoding": {"x": {"field": "month", "type": "ordinal", "sort": ["Jan","Feb","Mar","Apr","May","Jun","Jul","Aug","Sep","Oct","Nov","Dec"], "scale": {"type": "point", "padding": 0.44}, "axis": {"title": null, "labels": false}}},
 "layer": [
  {"mark": {"type": "errorbar", "ticks": {"size": 7}, "color": "#222222", "thickness": 1}, "encoding": {"y": {"field": "lo", "type": "quantitative", "scale": {"domain": [-0.334, 0.747], "nice": false, "zero": false}, "axis": {"title": null, "tickCount": 20, "labelOverlap": false, "values": [-0.2, 0, 0.2, 0.4, 0.6], "format": ".1f"}}, "y2": {"field": "hi"}}},
  {"mark": {"type": "point", "shape": "diamond", "filled": true, "size": 95, "color": "black", "opacity": 1}, "encoding": {"y": {"field": "mean", "type": "quantitative"}}},
  {"mark": {"type": "line", "color": "red", "strokeWidth": 2, "interpolate": "linear"}, "encoding": {"y": {"field": "fit", "type": "quantitative"}}}
 ]},
{"title": "Pinkwae", "width": 98, "height": 116, "data": {"name": "d"}, "transform": [{"filter": "datum.site === 'Pinkwae'"}],
 "encoding": {"x": {"field": "month", "type": "ordinal", "sort": ["Jan","Feb","Mar","Apr","May","Jun","Jul","Aug","Sep","Oct","Nov","Dec"], "scale": {"type": "point", "padding": 0.44}, "axis": {"title": null, "labels": false}}},
 "layer": [
  {"mark": {"type": "errorbar", "ticks": {"size": 7}, "color": "#222222", "thickness": 1}, "encoding": {"y": {"field": "lo", "type": "quantitative", "scale": {"domain": [-3.9, 2.66], "nice": false, "zero": false}, "axis": {"title": null, "tickCount": 20, "labelOverlap": false, "values": [-3, -2, -1, 0, 1, 2], "format": "d"}}, "y2": {"field": "hi"}}},
  {"mark": {"type": "point", "shape": "diamond", "filled": true, "size": 95, "color": "black", "opacity": 1}, "encoding": {"y": {"field": "mean", "type": "quantitative"}}},
  {"mark": {"type": "line", "color": "red", "strokeWidth": 2, "interpolate": "linear"}, "encoding": {"y": {"field": "fit", "type": "quantitative"}}}
 ]},
{"title": "RBSF", "width": 98, "height": 116, "data": {"name": "d"}, "transform": [{"filter": "datum.site === 'RBSF'"}],
 "encoding": {"x": {"field": "month", "type": "ordinal", "sort": ["Jan","Feb","Mar","Apr","May","Jun","Jul","Aug","Sep","Oct","Nov","Dec"], "scale": {"type": "point", "padding": 0.44}, "axis": {"title": null, "labels": false}}},
 "layer": [
  {"mark": {"type": "errorbar", "ticks": {"size": 7}, "color": "#222222", "thickness": 1}, "encoding": {"y": {"field": "lo", "type": "quantitative", "scale": {"domain": [-0.656, 1.47], "nice": false, "zero": false}, "axis": {"title": null, "tickCount": 20, "labelOverlap": false, "values": [-0.5, 0, 0.5, 1], "format": ".1f"}}, "y2": {"field": "hi"}}},
  {"mark": {"type": "point", "shape": "diamond", "filled": true, "size": 95, "color": "black", "opacity": 1}, "encoding": {"y": {"field": "mean", "type": "quantitative"}}},
  {"mark": {"type": "line", "color": "red", "strokeWidth": 2, "interpolate": "linear"}, "encoding": {"y": {"field": "fit", "type": "quantitative"}}}
 ]},
{"title": "RFC", "width": 98, "height": 116, "data": {"name": "d"}, "transform": [{"filter": "datum.site === 'RFC'"}],
 "encoding": {"x": {"field": "month", "type": "ordinal", "sort": ["Jan","Feb","Mar","Apr","May","Jun","Jul","Aug","Sep","Oct","Nov","Dec"], "scale": {"type": "point", "padding": 0.44}, "axis": {"title": null, "labels": false}}},
 "layer": [
  {"mark": {"type": "errorbar", "ticks": {"size": 7}, "color": "#222222", "thickness": 1}, "encoding": {"y": {"field": "lo", "type": "quantitative", "scale": {"domain": [-0.795, 2.56], "nice": false, "zero": false}, "axis": {"title": null, "tickCount": 20, "labelOverlap": false, "values": [-0.5, 0, 0.5, 1, 1.5, 2, 2.5], "format": ".1f"}}, "y2": {"field": "hi"}}},
  {"mark": {"type": "point", "shape": "diamond", "filled": true, "size": 95, "color": "black", "opacity": 1}, "encoding": {"y": {"field": "mean", "type": "quantitative"}}},
  {"mark": {"type": "line", "color": "red", "strokeWidth": 2, "interpolate": "linear"}, "encoding": {"y": {"field": "fit", "type": "quantitative"}}}
 ]},
{"title": "Rio Cachoiera", "width": 98, "height": 116, "data": {"name": "d"}, "transform": [{"filter": "datum.site === 'Rio Cachoiera'"}],
 "encoding": {"x": {"field": "month", "type": "ordinal", "sort": ["Jan","Feb","Mar","Apr","May","Jun","Jul","Aug","Sep","Oct","Nov","Dec"], "scale": {"type": "point", "padding": 0.44}, "axis": {"title": null, "labels": false}}},
 "layer": [
  {"mark": {"type": "errorbar", "ticks": {"size": 7}, "color": "#222222", "thickness": 1}, "encoding": {"y": {"field": "lo", "type": "quantitative", "scale": {"domain": [-1.53, 4.41], "nice": false, "zero": false}, "axis": {"title": null, "tickCount": 20, "labelOverlap": false, "values": [-1, 0, 1, 2, 3, 4], "format": "d"}}, "y2": {"field": "hi"}}},
  {"mark": {"type": "point", "shape": "diamond", "filled": true, "size": 95, "color": "black", "opacity": 1}, "encoding": {"y": {"field": "mean", "type": "quantitative"}}},
  {"mark": {"type": "line", "color": "red", "strokeWidth": 2, "interpolate": "linear"}, "encoding": {"y": {"field": "fit", "type": "quantitative"}}}
 ]},
{"title": "Selangor", "width": 98, "height": 116, "data": {"name": "d"}, "transform": [{"filter": "datum.site === 'Selangor'"}],
 "encoding": {"x": {"field": "month", "type": "ordinal", "sort": ["Jan","Feb","Mar","Apr","May","Jun","Jul","Aug","Sep","Oct","Nov","Dec"], "scale": {"type": "point", "padding": 0.44}, "axis": {"title": null, "labelAngle": -90}}},
 "layer": [
  {"mark": {"type": "errorbar", "ticks": {"size": 7}, "color": "#222222", "thickness": 1}, "encoding": {"y": {"field": "lo", "type": "quantitative", "scale": {"domain": [-0.36, 1.38], "nice": false, "zero": false}, "axis": {"title": null, "tickCount": 20, "labelOverlap": false, "values": [0, 0.5, 1], "format": ".1f"}}, "y2": {"field": "hi"}}},
  {"mark": {"type": "point", "shape": "diamond", "filled": true, "size": 95, "color": "black", "opacity": 1}, "encoding": {"y": {"field": "mean", "type": "quantitative"}}},
  {"mark": {"type": "line", "color": "red", "strokeWidth": 2, "interpolate": "monotone"}, "encoding": {"y": {"field": "fit", "type": "quantitative"}}}
 ]},
{"title": "SERS", "width": 98, "height": 116, "data": {"name": "d"}, "transform": [{"filter": "datum.site === 'SERS'"}],
 "encoding": {"x": {"field": "month", "type": "ordinal", "sort": ["Jan","Feb","Mar","Apr","May","Jun","Jul","Aug","Sep","Oct","Nov","Dec"], "scale": {"type": "point", "padding": 0.44}, "axis": {"title": null, "labelAngle": -90}}},
 "layer": [
  {"mark": {"type": "errorbar", "ticks": {"size": 7}, "color": "#222222", "thickness": 1}, "encoding": {"y": {"field": "lo", "type": "quantitative", "scale": {"domain": [-0.112, 0.214], "nice": false, "zero": false}, "axis": {"title": null, "tickCount": 20, "labelOverlap": false, "values": [-0.1, -0.05, 0, 0.05, 0.1, 0.15, 0.2], "format": ".2f"}}, "y2": {"field": "hi"}}},
  {"mark": {"type": "point", "shape": "diamond", "filled": true, "size": 95, "color": "black", "opacity": 1}, "encoding": {"y": {"field": "mean", "type": "quantitative"}}},
  {"mark": {"type": "line", "color": "red", "strokeWidth": 2, "interpolate": "monotone"}, "encoding": {"y": {"field": "fit", "type": "quantitative"}}}
 ]},
{"title": "Tapajos", "width": 98, "height": 116, "data": {"name": "d"}, "transform": [{"filter": "datum.site === 'Tapajos'"}],
 "encoding": {"x": {"field": "month", "type": "ordinal", "sort": ["Jan","Feb","Mar","Apr","May","Jun","Jul","Aug","Sep","Oct","Nov","Dec"], "scale": {"type": "point", "padding": 0.44}, "axis": {"title": "Time (months)", "titleFontSize": 30, "titlePadding": 0, "labelAngle": -90}}},
 "layer": [
  {"mark": {"type": "errorbar", "ticks": {"size": 7}, "color": "#222222", "thickness": 1}, "encoding": {"y": {"field": "lo", "type": "quantitative", "scale": {"domain": [-0.468, 1.27], "nice": false, "zero": false}, "axis": {"title": null, "tickCount": 20, "labelOverlap": false, "values": [0, 0.5, 1], "format": ".1f"}}, "y2": {"field": "hi"}}},
  {"mark": {"type": "point", "shape": "diamond", "filled": true, "size": 95, "color": "black", "opacity": 1}, "encoding": {"y": {"field": "mean", "type": "quantitative"}}},
  {"mark": {"type": "line", "color": "red", "strokeWidth": 2, "interpolate": "monotone"}, "encoding": {"y": {"field": "fit", "type": "quantitative"}}}
 ]},
{"title": "Tinte Bepo", "width": 98, "height": 116, "data": {"name": "d"}, "transform": [{"filter": "datum.site === 'Tinte Bepo'"}],
 "encoding": {"x": {"field": "month", "type": "ordinal", "sort": ["Jan","Feb","Mar","Apr","May","Jun","Jul","Aug","Sep","Oct","Nov","Dec"], "scale": {"type": "point", "padding": 0.44}, "axis": {"title": null, "labelAngle": -90}}},
 "layer": [
  {"mark": {"type": "errorbar", "ticks": {"size": 7}, "color": "#222222", "thickness": 1}, "encoding": {"y": {"field": "lo", "type": "quantitative", "scale": {"domain": [-0.36, 1.267], "nice": false, "zero": false}, "axis": {"title": null, "tickCount": 20, "labelOverlap": false, "values": [0, 0.5, 1], "format": ".1f"}}, "y2": {"field": "hi"}}},
  {"mark": {"type": "point", "shape": "diamond", "filled": true, "size": 95, "color": "black", "opacity": 1}, "encoding": {"y": {"field": "mean", "type": "quantitative"}}},
  {"mark": {"type": "line", "color": "red", "strokeWidth": 2, "interpolate": "linear"}, "encoding": {"y": {"field": "fit", "type": "quantitative"}}}
 ]},
{"title": "ZF−2", "width": 98, "height": 116, "data": {"name": "d"}, "transform": [{"filter": "datum.site === 'ZF−2'"}],
 "encoding": {"x": {"field": "month", "type": "ordinal", "sort": ["Jan","Feb","Mar","Apr","May","Jun","Jul","Aug","Sep","Oct","Nov","Dec"], "scale": {"type": "point", "padding": 0.44}, "axis": {"title": null, "labelAngle": -90}}},
 "layer": [
  {"mark": {"type": "errorbar", "ticks": {"size": 7}, "color": "#222222", "thickness": 1}, "encoding": {"y": {"field": "lo", "type": "quantitative", "scale": {"domain": [-0.012, 0.314], "nice": false, "zero": false}, "axis": {"title": null, "tickCount": 20, "labelOverlap": false, "values": [0, 0.05, 0.1, 0.15, 0.2, 0.25, 0.3], "format": ".2f"}}, "y2": {"field": "hi"}}},
  {"mark": {"type": "point", "shape": "diamond", "filled": true, "size": 95, "color": "black", "opacity": 1}, "encoding": {"y": {"field": "mean", "type": "quantitative"}}},
  {"mark": {"type": "line", "color": "red", "strokeWidth": 2, "interpolate": "linear"}, "encoding": {"y": {"field": "fit", "type": "quantitative"}}}
 ]}
]
}
